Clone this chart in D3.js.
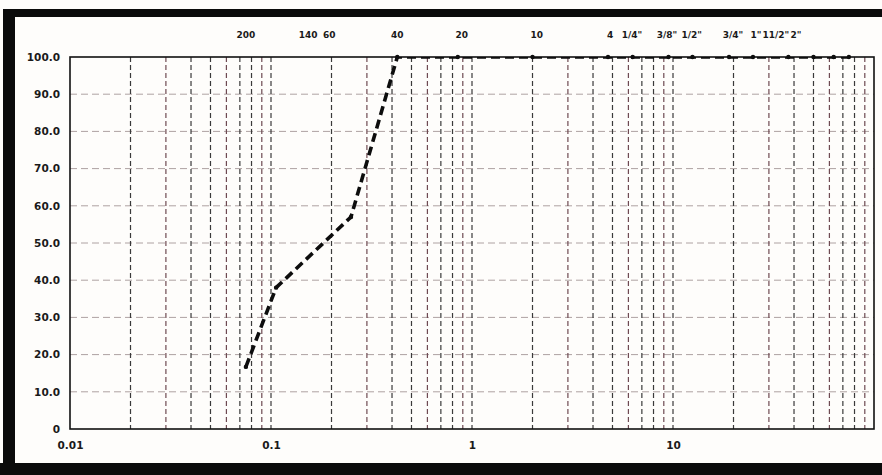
<!DOCTYPE html>
<html>
<head>
<meta charset="utf-8">
<script src="https://cdn.jsdelivr.net/npm/d3@7"></script>
<style>
  html, body { margin: 0; padding: 0; background: #ffffff; }
  svg { display: block; }
  text { font-family: "DejaVu Sans", "Liberation Sans", Arial, sans-serif; font-weight: bold; fill: #1a1a1a; }
</style>
</head>
<body>
<svg id="chart" width="882" height="475"></svg>
<script>
// Sieve openings (mm) and percent passing for the grading curve
const sieveSizes = [75, 63, 50, 37.5, 25, 19, 12.5, 9.5, 6.3, 4.75, 2.0, 0.85, 0.425, 0.25, 0.106, 0.075];
const percentPassing = [100, 100, 100, 100, 100, 100, 100, 100, 100, 100, 100, 100, 100, 57, 38, 16.7];

// Sieve designations printed along the top, with the grain size (mm) each sits over
const sieveLabels = ["200", "140", "60", "40", "20", "10", "4", "1/4\"", "3/8\"", "1/2\"", "3/4\"", "1\"", "11/2\"", "2\""];
const sieveLabelAt = [0.075, 0.153, 0.195, 0.425, 0.89, 2.1, 4.86, 6.25, 9.33, 12.4, 19.9, 25.9, 32.5, 40.9];

// Axis ticks
const xTickValues = [0.01, 0.1, 1, 10];
const xTickLabels = ["0.01", "0.1", "1", "10"];
const yTickValues = [0, 10, 20, 30, 40, 50, 60, 70, 80, 90, 100];

const svg = d3.select("#chart");
const W = 882, H = 475;
const plot = { left: 70, right: 874, top: 57, bottom: 429 };

// Black mounting frame
const frame = svg.append("g");
frame.append("rect").attr("x", 0).attr("y", 0).attr("width", W).attr("height", H).attr("fill", "#fefdfb");
frame.append("rect").attr("x", 7).attr("y", 9).attr("width", W - 7).attr("height", 8).attr("fill", "#0b0b0b");
frame.append("rect").attr("x", 3).attr("y", 9).attr("width", 12).attr("height", H - 9).attr("fill", "#0b0b0b");
frame.append("rect").attr("x", 0).attr("y", 463).attr("width", W).attr("height", 12).attr("fill", "#0b0b0b");

const x = d3.scaleLog().domain([0.01, 100]).range([plot.left, plot.right]);
const y = d3.scaleLinear().domain([0, 100]).range([plot.bottom, plot.top]);

svg.append("clipPath").attr("id", "plot-clip")
  .append("rect")
  .attr("x", plot.left).attr("y", plot.top)
  .attr("width", plot.right - plot.left).attr("height", plot.bottom - plot.top);

// Horizontal grid
svg.append("g")
  .selectAll("line")
  .data(yTickValues.filter(v => v > 0 && v < 100))
  .join("line")
  .attr("x1", plot.left).attr("x2", plot.right)
  .attr("y1", d => y(d)).attr("y2", d => y(d))
  .attr("stroke", "#aea2a2").attr("stroke-width", 1)
  .attr("stroke-dasharray", "7,4");

// Vertical log grid (1..9 in each decade)
const vGrid = [];
for (let e = -2; e < 2; e++) {
  for (let m = 1; m <= 9; m++) {
    const v = m * Math.pow(10, e);
    if (v > 0.01 && v < 100) vGrid.push(v);
  }
}
svg.append("g")
  .selectAll("line")
  .data(vGrid)
  .join("line")
  .attr("x1", d => x(d)).attr("x2", d => x(d))
  .attr("y1", plot.top).attr("y2", plot.bottom)
  .attr("stroke", (d, i) => (i % 3 === 1 ? "#6e4a52" : "#3a3a3a"))
  .attr("stroke-width", 1.2)
  .attr("stroke-dasharray", "5,3");

// Plot border
svg.append("rect")
  .attr("x", plot.left).attr("y", plot.top)
  .attr("width", plot.right - plot.left).attr("height", plot.bottom - plot.top)
  .attr("fill", "none").attr("stroke", "#111").attr("stroke-width", 1.6);

// Y axis labels
const yAxis = d3.axisLeft(y).tickValues(yTickValues)
  .tickFormat(d => (d === 0 ? "0" : d3.format(".1f")(d)))
  .tickSize(0).tickPadding(10);
const gy = svg.append("g").attr("transform", `translate(${plot.left},0)`).call(yAxis);
gy.select(".domain").remove();
gy.selectAll("text").style("font-size", "10.5px").attr("fill", "#1a1a1a");

// X axis labels
const xAxis = d3.axisBottom(x).tickValues(xTickValues)
  .tickFormat((d, i) => xTickLabels[i])
  .tickSize(0).tickPadding(13);
const gx = svg.append("g").attr("transform", `translate(0,${plot.bottom})`).call(xAxis);
gx.select(".domain").remove();
gx.selectAll("text").style("font-size", "10.5px").attr("fill", "#1a1a1a");

// Sieve designations along the top
svg.append("g")
  .selectAll("text")
  .data(sieveLabels)
  .join("text")
  .attr("x", (d, i) => x(sieveLabelAt[i]))
  .attr("y", 38)
  .attr("text-anchor", "middle")
  .style("font-size", "9px")
  .text(d => d);

// Grading curve, clipped to the plot area
const pts = sieveSizes.map((s, i) => [s, percentPassing[i]]).sort((a, b) => a[0] - b[0]);
const line = d3.line().x(d => x(d[0])).y(d => y(d[1]));
svg.append("path")
  .datum(pts)
  .attr("clip-path", "url(#plot-clip)")
  .attr("d", line)
  .attr("fill", "none")
  .attr("stroke", "#0d0d0d")
  .attr("stroke-width", 3.6)
  .attr("stroke-dasharray", "9,5");

svg.append("g")
  .selectAll("circle")
  .data(pts)
  .join("circle")
  .attr("cx", d => x(d[0]))
  .attr("cy", d => y(d[1]))
  .attr("r", 2.2)
  .attr("fill", "#0d0d0d");
</script>
</body>
</html>
